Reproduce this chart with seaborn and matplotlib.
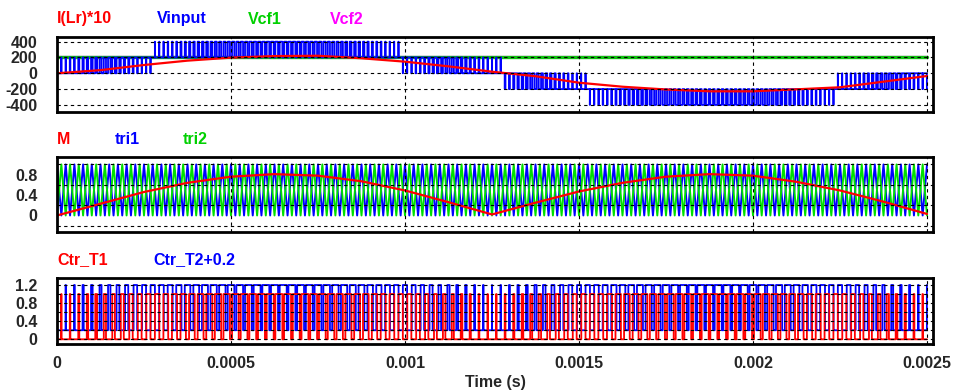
import numpy as np
import pandas as pd
import matplotlib
matplotlib.use("Agg")
import matplotlib.pyplot as plt
import seaborn as sns

# ---------------- data ----------------
t_samples = [0.0, 0.000125, 0.00025, 0.000375, 0.0005, 0.000625, 0.00075,
             0.000875, 0.001, 0.001125, 0.00125, 0.001375, 0.0015, 0.001625,
             0.00175, 0.001875, 0.002, 0.002125, 0.00225, 0.002375, 0.0025]
m_samples = [0.0, 0.23, 0.46, 0.64, 0.76, 0.81, 0.78, 0.67, 0.49, 0.26, 0.02,
             0.25, 0.47, 0.64, 0.76, 0.81, 0.78, 0.66, 0.49, 0.27, 0.03]
i_samples = [0, 40, 105, 160, 198, 218, 222, 190, 147, 88, 20,
             -37, -119, -170, -205, -228, -228, -203, -177, -106, -34]
vcf1_level = 200
vcf2_level = 200
carrier_freq = 40000.0          # Hz, triangular carriers tri1 / tri2
carrier_levels = [0.0, 1.0]     # carrier valley / peak
cell_voltage = 200              # one cell step of Vinput
polarity_bounds = [0.0, 0.00128, 0.0025]
polarity_signs = [1, -1]
t_end = 0.0025

x_ticks = [0, 0.0005, 0.001, 0.0015, 0.002, 0.0025]
x_tick_labels = ["0", "0.0005", "0.001", "0.0015", "0.002", "0.0025"]
p1_ticks = [400, 200, 0, -200, -400]
p2_ticks = [0.8, 0.4, 0]
p3_ticks = [1.2, 0.8, 0.4, 0]
p1_grid = [-400, -200, 0, 200, 400]
p2_grid = [-0.2, 0.2, 0.6, 1.0]
p3_grid = [0, 0.2, 0.4, 0.6, 0.8, 1.0, 1.2]

# ---------------- derived signals (carrier comparison) ----------------
half = 0.5 / carrier_freq
n_half = int(round(t_end / half))
vert_t = np.arange(n_half + 1) * half
vert_tri1 = np.array([carrier_levels[(k + 1) % 2] for k in range(n_half + 1)])
vert_tri2 = np.array([carrier_levels[k % 2] for k in range(n_half + 1)])

t = np.linspace(0, t_end, 40001)
m_t = np.interp(t, t_samples, m_samples)
tri1_t = np.interp(t, vert_t, vert_tri1)
tri2_t = np.interp(t, vert_t, vert_tri2)
ctr1 = (m_t > tri1_t).astype(float)
ctr2 = (m_t > tri2_t).astype(float)
sign = np.where(t < polarity_bounds[1], polarity_signs[0], polarity_signs[1])
vinput = sign * cell_voltage * (ctr1 + ctr2)

df_pwm = pd.DataFrame({"t": t, "vin": vinput, "c1": ctr1, "c2": ctr2 + 0.2})
df_s = pd.DataFrame({"t": t_samples, "m": m_samples, "i": i_samples,
                     "vcf1": [vcf1_level] * len(t_samples),
                     "vcf2": [vcf2_level] * len(t_samples)})
df_tri = pd.DataFrame({"t": vert_t, "tri1": vert_tri1, "tri2": vert_tri2})

# ---------------- figure ----------------
sns.set_theme(style="white")
plt.rcParams["font.family"] = ["Liberation Sans", "DejaVu Sans"]
plt.rcParams["font.weight"] = "bold"

W, H = 959, 392
fig = plt.figure(figsize=(W / 100, H / 100), dpi=100)

def ax_at(left, top, right, bottom):
    return fig.add_axes([left / W, 1 - bottom / H, (right - left) / W, (bottom - top) / H])

ax1 = ax_at(57, 36.7, 933, 111.7)
ax2 = ax_at(57, 157.3, 933, 232.3)
ax3 = ax_at(57, 278.3, 933, 344)

RED, BLUE, GREEN, MAG = "#ff0000", "#0000ff", "#00e000", "#ff00ff"
kw = dict(estimator=None, sort=False, legend=False)

# panel 1
sns.lineplot(data=df_s, x="t", y="vcf2", ax=ax1, color=MAG, lw=1.6, **kw)
sns.lineplot(data=df_s, x="t", y="vcf1", ax=ax1, color="#10c010", lw=2.4, **kw)
sns.lineplot(data=df_pwm, x="t", y="vin", ax=ax1, color=BLUE, lw=1.3,
             drawstyle="steps-post", **kw)
sns.lineplot(data=df_s, x="t", y="i", ax=ax1, color=RED, lw=1.6, **kw)

# panel 2
sns.lineplot(data=df_tri, x="t", y="tri1", ax=ax2, color=BLUE, lw=1.4, **kw)
sns.lineplot(data=df_tri, x="t", y="tri2", ax=ax2, color=GREEN, lw=1.4, **kw)
sns.lineplot(data=df_s, x="t", y="m", ax=ax2, color=RED, lw=1.6, **kw)

# panel 3
sns.lineplot(data=df_pwm, x="t", y="c2", ax=ax3, color=BLUE, lw=1.3,
             drawstyle="steps-post", **kw)
sns.lineplot(data=df_pwm, x="t", y="c1", ax=ax3, color=RED, lw=1.3,
             drawstyle="steps-post", **kw)

xmax = (933 - 57) / (174 / 0.0005)
limits = [(-486, 463), (-0.33, 1.14), (-0.104, 1.348)]
ticks = [p1_ticks, p2_ticks, p3_ticks]
grids = [p1_grid, p2_grid, p3_grid]
for ax, lim, tk, gr in zip([ax1, ax2, ax3], limits, ticks, grids):
    ax.set_xlim(0, xmax)
    ax.set_ylim(*lim)
    ax.set_yticks(tk)
    ax.set_yticklabels([f"{v:g}" for v in tk])
    ax.set_xticks(x_ticks)
    ax.set_xlabel("")
    ax.set_ylabel("")
    ax.tick_params(length=0, labelsize=11.5, pad=14)
    for g in gr:
        ax.axhline(g, color="black", lw=0.8, ls=(0, (3, 3)), zorder=5)
    for xv in x_ticks[1:]:
        ax.axvline(xv, color="black", lw=0.8, ls=(0, (3, 3)), zorder=5)
    for s in ax.spines.values():
        s.set_visible(True)
        s.set_color("black")
        s.set_linewidth(2.0)
        s.set_zorder(6)
    for lab in ax.get_yticklabels():
        lab.set_fontweight("bold")

ax1.set_xticklabels([])
ax2.set_xticklabels([])
ax3.set_xticklabels(x_tick_labels, fontweight="bold")
ax3.tick_params(axis="x", pad=9)
fig.text(495 / W, 1 - 382 / H, "Time (s)", ha="center", va="center",
         fontsize=11.5, fontweight="bold")

labels = [
    (57, 19, "I(Lr)*10", RED), (157, 19, "Vinput", BLUE),
    (248, 19, "Vcf1", "#00d000"), (330, 19, "Vcf2", MAG),
    (57, 139, "M", RED), (115, 139, "tri1", BLUE), (183, 139, "tri2", "#00d000"),
    (57, 260, "Ctr_T1", RED), (153, 260, "Ctr_T2+0.2", BLUE),
]
for x, y, s, c in labels:
    fig.text(x / W, 1 - y / H, s, ha="left", va="center", fontsize=11.5,
             fontweight="bold", color=c)

fig.savefig("out.png", dpi=100)
